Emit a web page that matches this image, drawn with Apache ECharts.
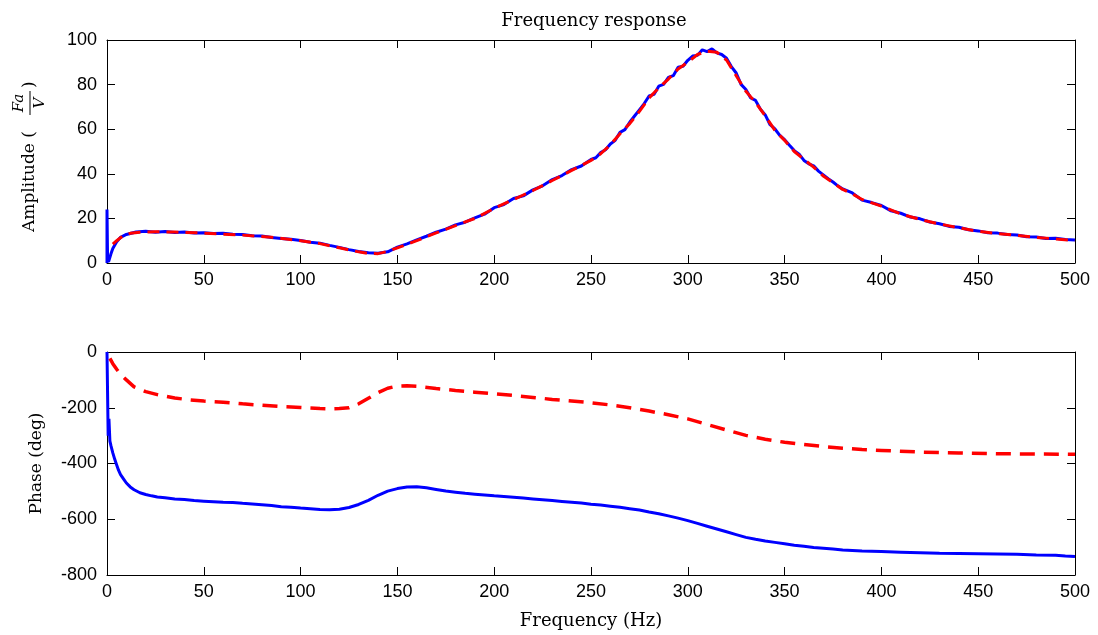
<!DOCTYPE html>
<html>
<head>
<meta charset="utf-8">
<script src="https://cdn.jsdelivr.net/npm/echarts@6/dist/echarts.min.js"></script>
<style>
html,body{margin:0;padding:0;background:#fff;}
#chart{width:1098px;height:635px;}
</style>
</head>
<body>
<div id="chart"></div>
<script>
// ---- Data ----
const xTicks = [0, 50, 100, 150, 200, 250, 300, 350, 400, 450, 500];
const ampTicks = [0, 20, 40, 60, 80, 100];
const phaseTicks = [-800, -600, -400, -200, 0];

// Amplitude, model (red dashed)
const ampModelFreq = [3,5,8,12,17,25,35,50,70,85,100,110,120,130,135,140,145,150,160,170,180,190,200,210,220,230,240,250,255,260,265,270,275,280,285,290,295,300,305,310,315,320,325,330,335,340,345,350,355,360,365,370,375,380,385,390,400,410,420,430,440,450,460,470,480,490,500];
const ampModel = [8.5,10,12,13.3,13.8,14,13.9,13.4,12.5,11.5,10,8.7,6.8,5,4.3,4.2,5.2,6.8,10,13.5,16.8,20,24.5,28.5,32.5,37,41.5,46,49,53,58,62.5,68,74,78.5,82.5,87,90,93.5,95,94.5,91,84,77,72,66,59.5,55,50,46.5,43,39,36,33,31,28.5,25.5,22,19.5,17.5,15.8,14.2,13.2,12.4,11.5,10.8,10];

// Amplitude, measured (blue, noisy)
const ampMeasFreq = [0,0,0.3,0.8,2,3,5,7,10,15,20,25,30,35,40,45,50,55,60,65,70,75,80,85,90,95,100,105,110,115,120,125,130,135,140,145,150,155,160,165,170,175,180,185,190,195,200,205,210,215,220,225,230,235,240,245,250,252.5,255,257.5,260,262.5,265,267.5,270,272.5,275,277.5,280,282.5,285,287.5,290,292.5,295,297.5,300,302.5,305,307.5,310,312.5,315,317.5,320,322.5,325,327.5,330,332.5,335,337.5,340,342.5,345,347.5,350,352.5,355,357.5,360,362.5,365,367.5,370,372.5,375,377.5,380,385,390,395,400,405,410,415,420,425,430,435,440,445,450,455,460,465,470,475,480,485,490,495,500];
const ampMeas = [0,24,2,0.5,4,6.5,9.5,11.5,12.8,13.9,14.2,13.8,14.1,13.7,13.9,13.5,13.6,13.2,13.3,12.9,12.8,12.2,12.1,11.4,11.0,10.6,10.1,9.3,8.9,7.9,7.0,6.0,5.2,4.6,4.4,5.0,7.1,8.6,10.4,12.0,13.8,15.2,17.1,18.3,20.2,21.9,24.8,26.2,28.9,30.1,32.8,34.6,37.4,39.2,41.9,43.5,46.4,47.2,49.5,50.8,53.4,55.0,58.6,59.8,63.1,65.9,68.7,71.5,74.9,75.6,79.3,80.1,83.2,84.0,87.8,88.2,90.9,92.8,93.1,95.6,94.8,96.0,94.2,93.5,91.8,88.1,85.2,80.1,77.8,74.0,72.9,69.0,66.4,62.0,60.1,57.2,55.3,52.8,50.4,48.8,46.0,44.5,43.6,41.2,39.5,37.8,36.3,34.6,33.2,31.4,28.2,27.1,25.8,23.4,22.3,20.6,19.8,18.4,17.6,16.4,16.0,14.9,14.4,13.6,13.4,12.8,12.6,11.8,11.7,11.0,11.1,10.5,10.3];

// Phase, model (red dashed)
const phaseModelFreq = [1.5,3,5,7,10,14,20,26,35,43,50,60,70,80,90,100,110,115,120,125,130,135,140,145,150,155,160,170,180,190,200,210,220,230,240,250,260,270,280,290,300,310,320,330,340,350,360,370,380,390,400,420,440,460,480,500];
const phaseModel = [-23,-42,-62,-80,-100,-125,-142,-153,-165,-172,-176,-180,-186,-191,-196,-199,-203,-204,-203,-200,-186,-166,-146,-130,-122,-121,-123,-131,-138,-144,-150,-156,-163,-170,-176,-182,-190,-200,-212,-225,-240,-260,-280,-299,-313,-324,-332,-339,-345,-350,-353,-359,-362,-365,-366,-367];

// Phase, measured (blue)
const phaseMeasFreq = [0,0.3,0.6,1,1.5,2,3,4,5,6,7,8.5,10,12,14,17,20,23,26,30,35,40,45,50,55,60,65,70,75,80,85,90,95,100,105,110,115,120,125,130,135,140,145,150,155,160,165,170,175,180,185,190,195,200,205,210,215,220,225,230,235,240,245,250,255,260,265,270,275,280,285,290,295,300,305,310,315,320,325,330,335,340,345,350,355,360,365,370,375,380,390,400,410,420,430,440,450,460,470,480,490,495,500];
const phaseMeas = [0,-150,-300,-240,-320,-335,-362,-385,-405,-425,-440,-455,-470,-484,-494,-505,-511,-516,-520,-523,-527,-529,-533,-535,-537,-539,-540,-543,-545,-548,-551,-555,-557,-560,-562,-565,-566,-564,-558,-547,-532,-514,-499,-490,-484,-483,-487,-493,-499,-503,-507,-510,-513,-516,-518,-521,-524,-527,-530,-533,-536,-539,-542,-546,-549,-553,-557,-562,-567,-574,-580,-588,-596,-605,-615,-625,-635,-645,-655,-665,-672,-678,-683,-688,-693,-697,-701,-704,-707,-710,-714,-716,-718,-720,-722,-723,-724,-725,-726,-728,-729,-732,-734];

const zip = (a, b) => a.map((v, i) => [v, b[i]]);

// ---- Chart ----
const BLUE = '#0000ff', RED = '#ff0000';
const tickFont = { color: '#000', fontSize: 18, fontFamily: 'Liberation Sans, Arial, sans-serif' };
const labFont = 'DejaVu Serif, serif';

function xAx(grid, showLabels, name) {
  return {
    type: 'value', gridIndex: grid, min: 0, max: 500, interval: 50, position: 'bottom',
    axisLine: { show: true, onZero: false, lineStyle: { color: '#000', width: 1 } },
    axisTick: { show: true, inside: true, length: 8, lineStyle: { color: '#000' } },
    axisLabel: Object.assign({ show: showLabels, margin: 8 }, tickFont),
    splitLine: { show: false },
    name: name || '', nameLocation: 'middle', nameGap: 37,
    nameTextStyle: { color: '#000', fontSize: 18, fontFamily: labFont }
  };
}
function xTop(grid) {
  return {
    type: 'value', gridIndex: grid, min: 0, max: 500, interval: 50, position: 'top',
    axisLine: { show: true, onZero: false, lineStyle: { color: '#000', width: 1 } },
    axisTick: { show: true, inside: true, length: 8, lineStyle: { color: '#000' } },
    axisLabel: { show: false }, splitLine: { show: false }
  };
}
function yAx(grid, min, max, interval, name, pos, showLabels) {
  return {
    type: 'value', gridIndex: grid, min: min, max: max, interval: interval, position: pos,
    axisLine: { show: true, onZero: false, lineStyle: { color: '#000', width: 1 } },
    axisTick: { show: true, inside: true, length: 8, lineStyle: { color: '#000' } },
    axisLabel: Object.assign({ show: showLabels, margin: 10 }, tickFont),
    splitLine: { show: false },
    name: name || '', nameLocation: 'middle', nameRotate: 90, nameGap: 62,
    nameTextStyle: { color: '#000', fontSize: 17, fontFamily: labFont }
  };
}

const chart = echarts.init(document.getElementById('chart'), null, { renderer: 'canvas' });
chart.setOption({
  animation: false,
  backgroundColor: '#fff',
  title: {
    text: 'Frequency response', left: 589, top: 7, textAlign: 'center',
    textStyle: { color: '#000', fontSize: 18, fontWeight: 'normal', fontFamily: labFont }
  },
  grid: [
    { left: 107, right: 23, top: 40, height: 223 },
    { left: 107, right: 23, top: 352, height: 223 }
  ],
  xAxis: [xAx(0, true), xAx(1, true, 'Frequency (Hz)'), xTop(0), xTop(1)],
  yAxis: [
    yAx(0, 0, 100, 20, '', 'left', true),
    yAx(1, -800, 0, 200, 'Phase (deg)', 'left', true),
    yAx(0, 0, 100, 20, '', 'right', false),
    yAx(1, -800, 0, 200, '', 'right', false)
  ],
  graphic: [{
    type: 'group', x: 30, y: 157, rotation: Math.PI / 2,
    children: [
      { type: 'text', x: -75, y: 0, style: { text: 'Amplitude (', font: '17px "DejaVu Serif"', fill: '#000', align: 'left', verticalAlign: 'middle' } },
      { type: 'text', x: 54, y: -3, style: { text: 'Fa', font: 'italic 15px "DejaVu Serif"', fill: '#000', align: 'center', verticalAlign: 'bottom' } },
      { type: 'line', shape: { x1: 42, y1: 0, x2: 66, y2: 0 }, style: { stroke: '#000', lineWidth: 1 } },
      { type: 'text', x: 54, y: 3, style: { text: 'V', font: 'italic 15px "DejaVu Serif"', fill: '#000', align: 'center', verticalAlign: 'top' } },
      { type: 'text', x: 69, y: 0, style: { text: ')', font: '17px "DejaVu Serif"', fill: '#000', align: 'left', verticalAlign: 'middle' } }
    ]
  }],
  series: [
    { type: 'line', xAxisIndex: 0, yAxisIndex: 0, data: zip(ampMeasFreq, ampMeas), showSymbol: false,
      lineStyle: { color: BLUE, width: 3 }, z: 2 },
    { type: 'line', xAxisIndex: 0, yAxisIndex: 0, data: zip(ampModelFreq, ampModel), showSymbol: false,
      lineStyle: { color: RED, width: 3, type: [12, 7] }, z: 3 },
    { type: 'line', xAxisIndex: 1, yAxisIndex: 1, data: zip(phaseModelFreq, phaseModel), showSymbol: false,
      lineStyle: { color: RED, width: 3.5, type: [15, 9] }, z: 3 },
    { type: 'line', xAxisIndex: 1, yAxisIndex: 1, data: zip(phaseMeasFreq, phaseMeas), showSymbol: false,
      lineStyle: { color: BLUE, width: 3 }, z: 2 }
  ]
});
</script>
</body>
</html>
